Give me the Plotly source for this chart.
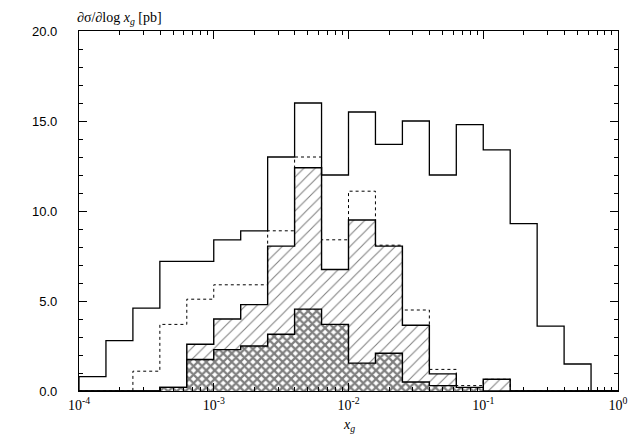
import plotly.graph_objects as go

# bin edges in log10(x_g), 5 bins per decade
log_edges = [-4.0, -3.8, -3.6, -3.4, -3.2, -3.0, -2.8, -2.6, -2.4, -2.2, -2.0,
             -1.8, -1.6, -1.4, -1.2, -1.0, -0.8, -0.6, -0.4, -0.2, 0.0]

# values, in pb
total = [0.8, 2.8, 4.6, 7.2, 7.2, 8.4, 8.9, 13.0, 16.0, 12.0,
         15.5, 13.7, 15.0, 12.0, 14.8, 13.4, 9.3, 3.6, 1.5, 0.0]
dotted = [0.0, 0.0, 1.1, 3.7, 5.1, 5.9, 5.9, 8.9, 13.0, 8.4,
          11.1, 8.1, 4.5, 1.2, 0.3, 0.65, 0.0, 0.0, 0.0, 0.0]
hatched = [0.0, 0.0, 0.0, 0.2, 2.6, 4.0, 4.8, 8.05, 12.4, 6.75,
           9.5, 8.05, 3.65, 0.95, 0.15, 0.65, 0.0, 0.0, 0.0, 0.0]
cross = [0.0, 0.0, 0.0, 0.2, 1.75, 2.3, 2.5, 3.15, 4.55, 3.7,
         1.55, 2.1, 0.5, 0.3, 0.2, 0.0, 0.0, 0.0, 0.0, 0.0]

x_tickvals = [1e-4, 1e-3, 1e-2, 1e-1, 1e0]
x_ticktext = ["10<sup>-4</sup>", "10<sup>-3</sup>", "10<sup>-2</sup>", "10<sup>-1</sup>", "10<sup>0</sup>"]
y_tickvals = [0, 5, 10, 15, 20]
y_ticktext = ["0.0", "5.0", "10.0", "15.0", "20.0"]

edges = [10 ** e for e in log_edges]


def step(vals):
    xs = [edges[0]] + edges
    ys = [0] + vals + [0]
    return xs, ys


fig = go.Figure()

xs, ys = step(hatched)
fig.add_trace(go.Scatter(x=xs, y=ys, mode='lines', line=dict(color='black', width=1.4, shape='hv'),
                         fill='tozeroy', fillcolor='white',
                         fillpattern=dict(shape='/', fgcolor='black', bgcolor='white', size=8, solidity=0.13)))
xs, ys = step(cross)
fig.add_trace(go.Scatter(x=xs, y=ys, mode='lines', line=dict(color='black', width=1.4, shape='hv'),
                         fill='tozeroy', fillcolor='white',
                         fillpattern=dict(shape='x', fgcolor='black', bgcolor='white', size=6, solidity=0.6)))
xs, ys = step(dotted)
fig.add_trace(go.Scatter(x=xs, y=ys, mode='lines', line=dict(color='black', width=1, dash='dot', shape='hv')))
xs, ys = step(total)
fig.add_trace(go.Scatter(x=xs, y=ys, mode='lines', line=dict(color='black', width=1.3, shape='hv')))

# the page body has an 8px margin, so the figure is offset by 8px in the window
fig.update_layout(
    width=625, height=429,
    margin=dict(l=71, r=15, t=23, b=46),
    plot_bgcolor='white', paper_bgcolor='white',
    showlegend=False,
    font=dict(family="Liberation Sans", color='black', size=13),
)
fig.update_xaxes(type='log', range=[-4, 0], showgrid=False, zeroline=False, automargin=False,
                 showline=True, linecolor='black', linewidth=1.2, mirror='allticks',
                 ticks='inside', ticklen=8, tickcolor='black',
                 tickvals=x_tickvals, ticktext=x_ticktext, ticklabelstandoff=1,
                 tickfont=dict(family="Liberation Serif", size=14),
                 minor=dict(ticks='inside', ticklen=4, tickcolor='black', dtick='D1', showgrid=False))
fig.update_yaxes(range=[0, 20], showgrid=False, zeroline=False, automargin=False,
                 showline=True, linecolor='black', linewidth=1.2, mirror='allticks',
                 ticks='inside', ticklen=8, tickcolor='black',
                 tickvals=y_tickvals, ticktext=y_ticktext, ticklabelstandoff=18,
                 minor=dict(ticks='inside', ticklen=4, tickcolor='black', dtick=1, showgrid=False))

fig.add_annotation(text="∂σ/∂log <i>x<sub>g</sub></i> [pb]", xref='paper', yref='paper',
                   x=-0.008, y=1.034, xanchor='left', yanchor='middle', showarrow=False,
                   font=dict(family="Liberation Serif", size=14))
fig.add_annotation(text="<i>x<sub>g</sub></i>", xref='paper', yref='paper',
                   x=0.5, y=-0.096, xanchor='center', yanchor='middle', showarrow=False,
                   font=dict(family="Liberation Serif", size=14))

fig.write_html("out.html")
